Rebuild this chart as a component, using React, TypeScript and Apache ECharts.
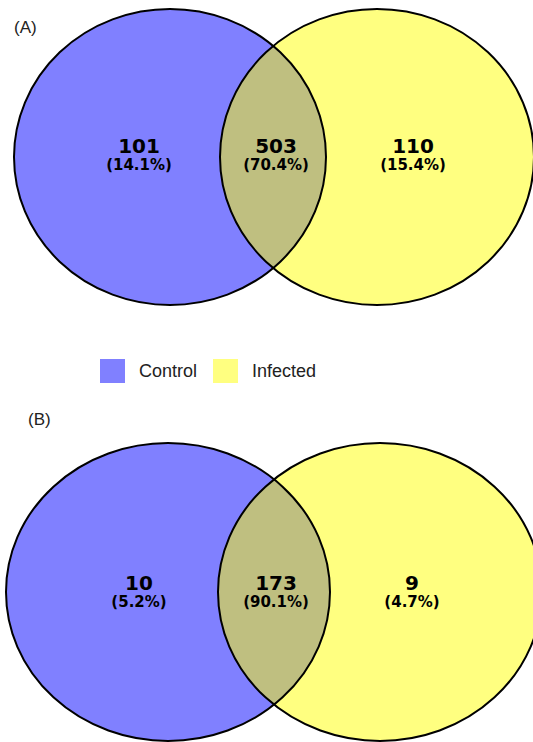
import React, { useEffect, useRef } from "react";
import * as echarts from "echarts";

// Two-set Venn counts for each panel
const panelTitles = ["(A)", "(B)"];
const setNames = ["Control", "Infected"];
const onlyControl = [101, 10];
const sharedCount = [503, 173];
const onlyInfected = [110, 9];

// Colours of the two sets and their overlap
const controlColor = "#8080ff";
const infectedColor = "#ffff80";
const overlapColor = "#bfbf80";

// Page-space layout of each panel (canvas units == pixels)
const W = 533;
const H = 742;
const panelLayout = [
  {
    title: [14, 27],
    cy: 157,
    ry: 148,
    left: { cx: 170, rx: 156 },
    right: { cx: 377, rx: 157 },
    labelX: [139, 276, 413],
    numY: 145.5,
    pctY: 165,
  },
  {
    title: [28, 419],
    cy: 592,
    ry: 149,
    left: { cx: 168, rx: 162 },
    right: { cx: 380, rx: 162 },
    labelX: [139, 276, 412],
    numY: 582.5,
    pctY: 602,
  },
];

const pct = (v: number, total: number) => `(${((v / total) * 100).toFixed(1)}%)`;

function ellipsePath(cx: number, cy: number, rx: number, ry: number) {
  return `M ${cx - rx} ${cy} A ${rx} ${ry} 0 1 0 ${cx + rx} ${cy} A ${rx} ${ry} 0 1 0 ${cx - rx} ${cy} Z`;
}

function geometry(api: any, i: number) {
  const L = panelLayout[i];
  const [lcx, cy] = api.coord([L.left.cx, L.cy]);
  const [rcx] = api.coord([L.right.cx, L.cy]);
  const [lrx, ry] = api.size([L.left.rx, L.ry]);
  const [rrx] = api.size([L.right.rx, L.ry]);
  return { lcx, rcx, cy, lrx, rrx, ry };
}

export default function App() {
  const ref = useRef<HTMLDivElement>(null);

  useEffect(() => {
    if (!ref.current) return;
    const chart = echarts.init(ref.current, undefined, { renderer: "svg" });
    const panelData = panelTitles.map((_, i) => [i]);

    const fillSeries = (name: string, color: string, side: "left" | "right") => ({
      name,
      type: "custom",
      coordinateSystem: "cartesian2d",
      itemStyle: { color },
      data: panelData,
      silent: true,
      renderItem: (params: any, api: any) => {
        const g = geometry(api, params.dataIndex);
        const cx = side === "left" ? g.lcx : g.rcx;
        const rx = side === "left" ? g.lrx : g.rrx;
        return {
          type: "path",
          shape: { pathData: ellipsePath(cx, g.cy, rx, g.ry) },
          style: { fill: color, stroke: "none" },
        };
      },
    });

    const option: any = {
      animation: false,
      backgroundColor: "#ffffff",
      grid: { left: 0, right: 0, top: 0, bottom: 0 },
      xAxis: { type: "value", min: 0, max: W, show: false },
      yAxis: { type: "value", min: 0, max: H, inverse: true, show: false },
      legend: {
        data: setNames,
        left: 100,
        top: 359,
        padding: 0,
        icon: "rect",
        itemWidth: 25,
        itemHeight: 24,
        itemGap: 16,
        selectedMode: false,
        textStyle: {
          fontFamily: "Liberation Sans",
          fontSize: 18,
          color: "#222222",
          padding: [0, 0, 0, 9],
        },
      },
      series: [
        fillSeries(setNames[0], controlColor, "left"),
        fillSeries(setNames[1], infectedColor, "right"),
        {
          type: "custom",
          coordinateSystem: "cartesian2d",
          data: panelData,
          silent: true,
          renderItem: (params: any, api: any) => {
            const i = params.dataIndex;
            const L = panelLayout[i];
            const g = geometry(api, i);
            // Intersection of the two outlines (equal vertical radii)
            const xi = (g.lcx * g.rrx + g.rcx * g.lrx) / (g.lrx + g.rrx);
            const t = (xi - g.lcx) / g.lrx;
            const dy = g.ry * Math.sqrt(Math.max(0, 1 - t * t));
            const top = [xi, g.cy - dy];
            const bot = [xi, g.cy + dy];
            const lens =
              `M ${top[0]} ${top[1]} A ${g.lrx} ${g.ry} 0 0 1 ${bot[0]} ${bot[1]} ` +
              `A ${g.rrx} ${g.ry} 0 0 1 ${top[0]} ${top[1]} Z`;

            const total = onlyControl[i] + sharedCount[i] + onlyInfected[i];
            const counts = [onlyControl[i], sharedCount[i], onlyInfected[i]];
            const children: any[] = [
              { type: "path", shape: { pathData: lens }, style: { fill: overlapColor, stroke: "none" } },
              {
                type: "path",
                shape: { pathData: ellipsePath(g.lcx, g.cy, g.lrx, g.ry) },
                style: { fill: "none", stroke: "#000000", lineWidth: 2 },
              },
              {
                type: "path",
                shape: { pathData: ellipsePath(g.rcx, g.cy, g.rrx, g.ry) },
                style: { fill: "none", stroke: "#000000", lineWidth: 2 },
              },
            ];
            counts.forEach((c, k) => {
              const [x, ny] = api.coord([L.labelX[k], L.numY]);
              const [, py] = api.coord([L.labelX[k], L.pctY]);
              children.push({
                type: "text",
                style: {
                  text: String(c),
                  x,
                  y: ny,
                  align: "center",
                  verticalAlign: "middle",
                  fontFamily: "DejaVu Sans",
                  fontWeight: "bold",
                  fontSize: 20,
                  fill: "#000000",
                },
              });
              children.push({
                type: "text",
                style: {
                  text: pct(c, total),
                  x,
                  y: py,
                  align: "center",
                  verticalAlign: "middle",
                  fontFamily: "DejaVu Sans",
                  fontWeight: "bold",
                  fontSize: 15,
                  fill: "#000000",
                },
              });
            });
            const [tx, ty] = api.coord(L.title);
            children.push({
              type: "text",
              style: {
                text: panelTitles[i],
                x: tx,
                y: ty,
                align: "left",
                verticalAlign: "middle",
                fontFamily: "Liberation Sans",
                fontSize: 17,
                fill: "#222222",
              },
            });
            return { type: "group", children };
          },
        },
      ],
    };

    chart.setOption(option);
    return () => chart.dispose();
  }, []);

  return (
    <div
      ref={ref}
      style={{ position: "absolute", left: 0, top: 0, width: W, height: H }}
    />
  );
}
